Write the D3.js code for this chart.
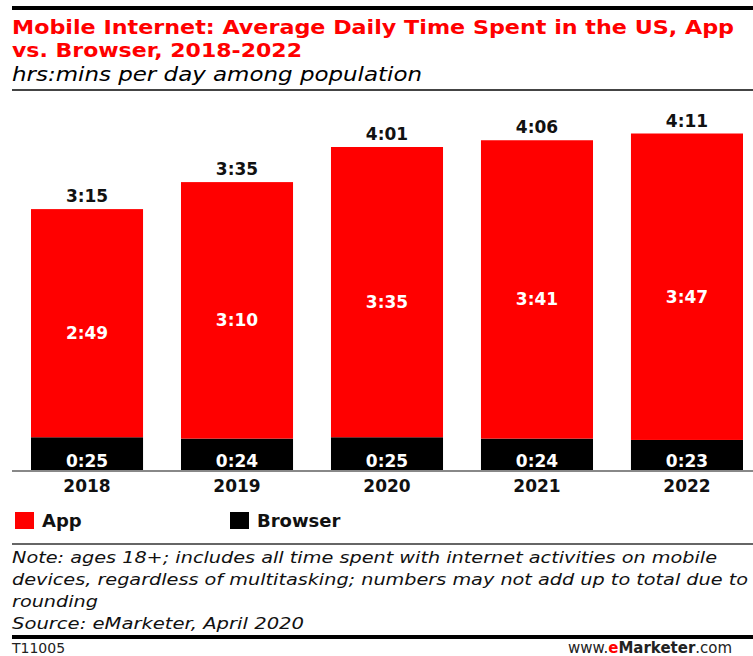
<!DOCTYPE html>
<html><head><meta charset="utf-8">
<script src="https://cdn.jsdelivr.net/npm/d3@7"></script>
<style>body{margin:0;background:#fff}svg{display:block}</style>
</head><body>
<script>
const years = ["2018","2019","2020","2021","2022"];
const appMins = [169,190,215,221,227];
const browserMins = [25,24,25,24,23];
const totalMins = [195,215,241,246,251];
const seriesNames = ["App","Browser"];
const colors = ["#ff0000","#000000"];

const W=753,H=656;
const svg=d3.select("body").append("svg").attr("width",W).attr("height",H);
const fmt = m => Math.floor(m/60)+":"+String(m%60).padStart(2,"0");
const sans = "'DejaVu Sans', Verdana, sans-serif";

// top rule
svg.append("rect").attr("x",12).attr("y",6).attr("width",W-12).attr("height",4).attr("fill","#000");
svg.append("text").attr("x",12).attr("y",34).attr("font-family",sans).attr("font-weight","bold").attr("font-size",20)
  .attr("fill","#ff0000").attr("textLength",722).attr("lengthAdjust","spacingAndGlyphs")
  .text("Mobile Internet: Average Daily Time Spent in the US, App");
svg.append("text").attr("x",12).attr("y",57).attr("font-family",sans).attr("font-weight","bold").attr("font-size",20)
  .attr("fill","#ff0000").attr("textLength",290).attr("lengthAdjust","spacingAndGlyphs")
  .text("vs. Browser, 2018-2022");
svg.append("text").attr("x",12).attr("y",81).attr("font-family",sans).attr("font-style","italic").attr("font-size",20)
  .attr("fill","#000").attr("textLength",410).attr("lengthAdjust","spacingAndGlyphs")
  .text("hrs:mins per day among population");
svg.append("rect").attr("x",12).attr("y",89).attr("width",W-12).attr("height",2).attr("fill","#444");

const x=d3.scaleBand().domain(years).range([12,762]).paddingInner(0.253).paddingOuter(0.1267);
const y=d3.scaleLinear().domain([0,260]).range([471,120]);

const data=years.map((yr,i)=>({year:yr,App:appMins[i],Browser:browserMins[i],total:totalMins[i]}));
const stack=d3.stack().keys(["Browser","App"])(data);

const g=svg.append("g");
stack.forEach(s=>{
  const c = s.key==="App"?colors[0]:colors[1];
  g.selectAll(null).data(s).join("rect")
    .attr("x",d=>x(d.data.year)).attr("width",x.bandwidth())
    .attr("y",d=>y(d[1])).attr("height",d=>y(d[0])-y(d[1])).attr("fill",c);
});
// inside labels
stack.forEach(s=>{
  g.selectAll(null).data(s).join("text")
    .attr("x",d=>x(d.data.year)+x.bandwidth()/2)
    .attr("y",d=>s.key==="Browser"? y(d[0])-4 : (y(d[0])+y(d[1]))/2+16)
    .attr("text-anchor","middle").attr("font-family",sans).attr("font-weight","bold").attr("font-size",17)
    .attr("fill","#fff").text(d=>fmt(d.data[s.key]));
});
// totals
g.selectAll(null).data(data).join("text")
  .attr("x",d=>x(d.year)+x.bandwidth()/2).attr("y",d=>y(d.App+d.Browser)-7)
  .attr("text-anchor","middle").attr("font-family",sans).attr("font-weight","bold").attr("font-size",17)
  .attr("fill","#111").text(d=>fmt(d.total));

// axis
const ax=svg.append("g").attr("transform","translate(0,471)").call(d3.axisBottom(x).tickSize(0).tickPadding(9));
ax.select(".domain").attr("stroke","#888").attr("stroke-width",2).attr("d","M12,0H753");
ax.selectAll("text").attr("font-family",sans).attr("font-weight","bold").attr("font-size",17).attr("fill","#111");

// legend
const lx=[15,230];
seriesNames.forEach((n,i)=>{
  svg.append("rect").attr("x",lx[i]).attr("y",512).attr("width",19).attr("height",17).attr("fill",colors[i]);
  svg.append("text").attr("x",lx[i]+27).attr("y",527).attr("font-family",sans).attr("font-weight","bold").attr("font-size",18)
    .attr("fill","#111").text(n);
});
svg.append("rect").attr("x",12).attr("y",543).attr("width",W-12).attr("height",2).attr("fill","#666");

const notes=["Note: ages 18+; includes all time spent with internet activities on mobile",
 "devices, regardless of multitasking; numbers may not add up to total due to",
 "rounding","Source: eMarketer, April 2020"];
const noteLen=[705,736,86,292];
notes.forEach((t,i)=>{
  svg.append("text").attr("x",12).attr("y",563+i*22).attr("font-family",sans).attr("font-style","italic")
    .attr("font-size",16).attr("fill","#111").text(t)
    .attr("textLength",noteLen[i]).attr("lengthAdjust","spacingAndGlyphs");
});
svg.append("rect").attr("x",12).attr("y",635).attr("width",W-12).attr("height",4).attr("fill","#000");
svg.append("text").attr("x",12).attr("y",653).attr("font-family",sans).attr("font-size",14).attr("fill","#222").text("T11005");
const wt=svg.append("text").attr("x",568).attr("y",653).attr("font-family",sans).attr("font-size",15).attr("fill","#222");
wt.append("tspan").text("www.");
wt.append("tspan").attr("fill","#ff0000").attr("font-weight","bold").text("e");
wt.append("tspan").attr("font-weight","bold").text("Marketer");
wt.append("tspan").text(".com");
</script>
</body></html>
